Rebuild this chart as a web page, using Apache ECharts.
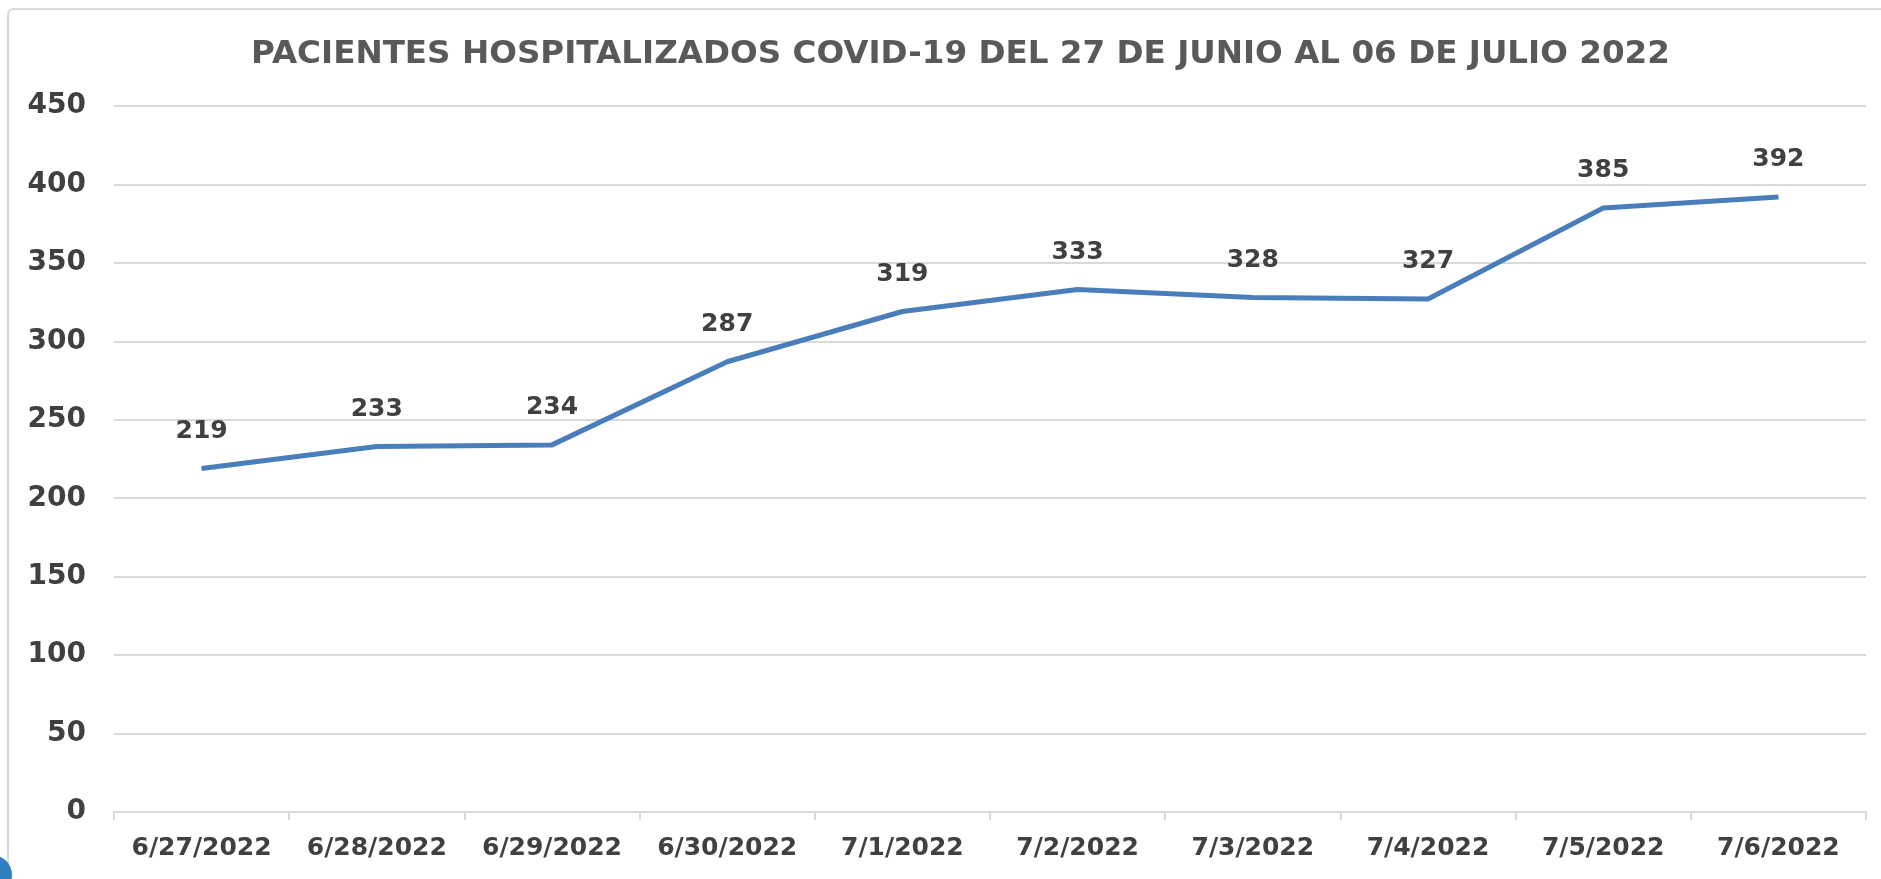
<!DOCTYPE html>
<html>
<head>
<meta charset="utf-8">
<script src="https://cdn.jsdelivr.net/npm/echarts@6/dist/echarts.min.js"></script>
<style>
  html, body { margin: 0; padding: 0; background: #fff; }
  #main { width: 1881px; height: 879px; }
</style>
</head>
<body>
<div id="main"></div>
<script>
// datos del grafico
var titulo = 'PACIENTES HOSPITALIZADOS COVID-19 DEL 27 DE JUNIO AL 06 DE JULIO 2022'
var fechas = ['6/27/2022', '6/28/2022', '6/29/2022', '6/30/2022', '7/1/2022',
  '7/2/2022', '7/3/2022', '7/4/2022', '7/5/2022', '7/6/2022']
var pacientes = [219, 233, 234, 287, 319, 333, 328, 327, 385, 392]
var yMin = 0
var yMax = 450
var yPaso = 50

var fuente = '"DejaVu Sans", sans-serif'
var option = {
  backgroundColor: '#fff',
  title: {
    text: titulo,
    left: 246,
    top: 33,
    textStyle: { color: '#595959', fontSize: 32.6, fontWeight: 'bold', fontFamily: fuente }
  },
  graphic: [
    {
      type: 'rect',
      shape: { x: 8, y: 9, width: 1890, height: 900, r: 6 },
      style: { fill: 'none', stroke: '#d9d9d9', lineWidth: 2 }
    },
    {
      type: 'circle',
      shape: { cx: -8, cy: 875, r: 20 },
      style: { fill: '#2f7fc1' }
    }
  ],
  grid: { left: 114, right: 15, top: 106, bottom: 67, containLabel: false },
  xAxis: {
    type: 'category',
    data: fechas,
    boundaryGap: true,
    axisLine: { lineStyle: { color: '#d9d9d9', width: 2 } },
    axisTick: { show: true, length: 8, lineStyle: { color: '#d9d9d9', width: 2 } },
    axisLabel: { color: '#404040', fontSize: 25, fontWeight: 'bold', fontFamily: fuente, margin: 24, interval: 0 },
    splitLine: { show: false }
  },
  yAxis: {
    type: 'value',
    min: yMin,
    max: yMax,
    interval: yPaso,
    axisLine: { show: false },
    axisTick: { show: false },
    axisLabel: { color: '#404040', fontSize: 28, fontWeight: 'bold', fontFamily: fuente, margin: 28 },
    splitLine: { lineStyle: { color: '#d9d9d9', width: 2 } }
  },
  series: [
    {
      name: 'Pacientes',
      type: 'line',
      data: pacientes,
      symbol: 'circle',
      symbolSize: 1,
      itemStyle: { color: '#4a7ebb' },
      lineStyle: { color: '#4a7ebb', width: 5 },
      label: {
        show: true,
        position: 'top',
        distance: 24,
        color: '#404040',
        fontSize: 25,
        fontWeight: 'bold',
        fontFamily: fuente
      }
    }
  ]
}
var myChart = echarts.init(document.getElementById('main'))
myChart.setOption(option)
</script>
</body>
</html>
